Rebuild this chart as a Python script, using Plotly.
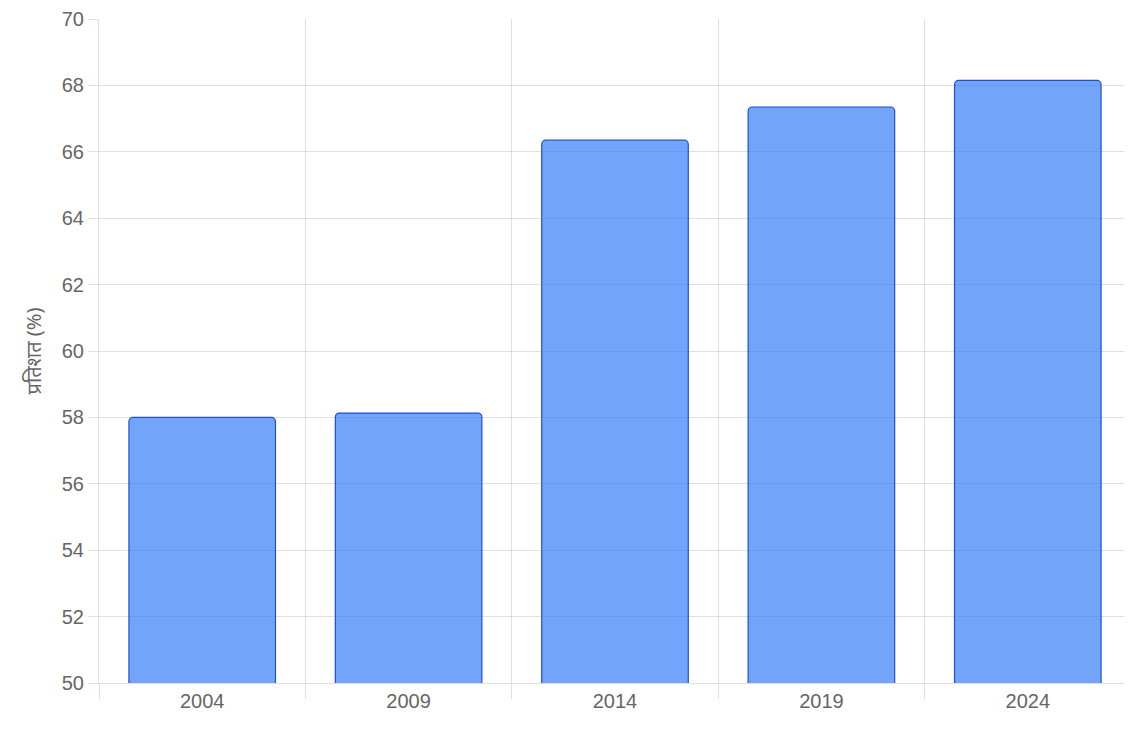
import plotly.graph_objects as go

years = ["2004", "2009", "2014", "2019", "2024"]
turnout = [58.0, 58.13, 66.35, 67.35, 68.15]

grid = "rgba(0,0,0,0.12)"
pos = list(range(len(years)))

fig = go.Figure()
fig.add_trace(go.Bar(
    x=pos, y=turnout, width=0.71,
    marker=dict(color="rgba(59,130,246,0.72)",
                line=dict(color="#1d4ed8", width=1.2),
                cornerradius=4),
))

# page body adds an 8px margin, so the figure is a bit smaller than the window
fig.update_layout(
    width=1124, height=724,
    margin=dict(l=91, r=1, t=11, b=49),
    plot_bgcolor="white", paper_bgcolor="white",
    font=dict(family="Liberation Sans, Arial, Noto Sans", size=20, color="#666"),
    showlegend=False,
)
fig.update_xaxes(
    range=[-0.5, len(years) - 0.5], tickvals=pos, ticktext=years,
    showgrid=False, zeroline=False, ticks="",
    showline=True, linecolor=grid,
    minor=dict(tickvals=[p - 0.5 for p in pos] + [len(years) - 0.5],
               showgrid=True, gridcolor=grid, ticks="outside",
               ticklen=15, tickcolor=grid),
)
fig.update_yaxes(
    range=[50, 70], dtick=2, showgrid=True, gridcolor=grid,
    zeroline=False, ticks="outside", ticklen=10, tickcolor=grid,
    showline=True, linecolor=grid,
    title=dict(text="प्रतिशत (%)", standoff=14,
               font=dict(size=20, family="Noto Sans, Liberation Sans")),
)

fig.write_html("out.html")
